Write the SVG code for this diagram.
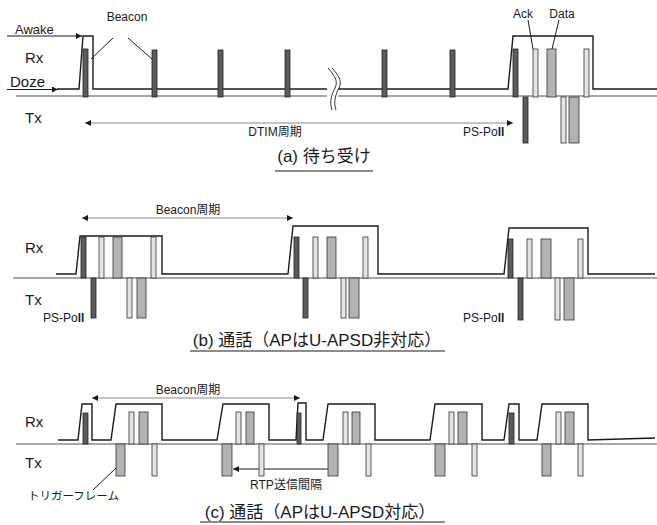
<svg xmlns="http://www.w3.org/2000/svg" width="657" height="525" viewBox="0 0 657 525">
<style>
text{font-family:"Liberation Sans","Noto Sans CJK JP",sans-serif;fill:#1a1a1a}
.lbl{font-size:15px}
.sm{font-size:12px}
.cap{font-size:17px;text-anchor:middle}
.base{stroke:#8a8a8a;stroke-width:1.3;fill:none}
.env{stroke:#1a1a1a;stroke-width:1.4;fill:none;stroke-linejoin:miter}
.dk{fill:#5c5c5c;stroke:#222;stroke-width:0.8}
.lt{fill:#e4e4e4;stroke:#333;stroke-width:0.8}
.md{fill:#b3b3b3;stroke:#333;stroke-width:0.8}
.arr{stroke:#8a8a8a;stroke-width:1.2;fill:none}
.blk{stroke:#1a1a1a;stroke-width:1;fill:none}
.ul{stroke:#1a1a1a;stroke-width:1.2}
</style>
<defs>
<marker id="ah" viewBox="0 0 10 10" refX="10" refY="5" markerWidth="8" markerHeight="6" markerUnits="userSpaceOnUse" orient="auto-start-reverse">
<path d="M0,0 L10,5 L0,10 z" fill="#1a1a1a"/>
</marker>
</defs>

<!-- Panel (a) -->
<g id="panel-a">
<text class="lbl" x="25" y="63">Rx</text>
<text class="lbl" x="25" y="123">Tx</text>
<text x="15" y="34" style="font-size:13px">Awake</text>
<text x="10" y="87" style="font-size:15px">Doze</text>
<text class="sm" x="127" y="21" text-anchor="middle">Beacon</text>
<text class="sm" x="523" y="18" text-anchor="middle">Ack</text>
<text class="sm" x="562" y="18" text-anchor="middle">Data</text>
<text class="sm" x="275" y="136" text-anchor="middle">DTIM周期</text>
<text class="sm" x="463" y="136">PS-Po<tspan font-weight="bold">ll</tspan></text>
<text class="cap" x="324" y="162">(a) 待ち受け</text>
<line class="ul" x1="275" y1="171" x2="373" y2="171"/>
</g>
<g id="connectors-a">
<line class="base" x1="16" y1="96" x2="327" y2="96"/>
<line class="base" x1="338" y1="96" x2="657" y2="96"/>
<path class="env" d="M57,89 L79,89 L83,36 L93,36 L93,89 L327,89 M338,89 L508,89 L513,36 L593,36 L593,89 L657,89"/>
<line class="blk" x1="7" y1="36" x2="82" y2="36" marker-end="url(#ah)"/>
<line class="blk" x1="7" y1="89.5" x2="58" y2="89.5" marker-end="url(#ah)"/>
<path class="blk" d="M113,38 L91,59 M128,38 L152,59"/>
<path class="blk" d="M528,20 L533,49 M559,20 L552,49"/>
<path d="M328,68 C336,77 338,82 335,88 S329,101 332,110" stroke="#333" stroke-width="1" fill="none"/>
<path d="M332,68 C340,77 342,82 339,88 S333,101 336,110" stroke="#333" stroke-width="1" fill="none"/>
<line class="arr" x1="85" y1="123" x2="513" y2="123" marker-start="url(#ah)" marker-end="url(#ah)"/>
</g>
<g id="bars-a">
<rect class="dk" x="83" y="49" width="5" height="48"/>
<rect class="dk" x="152" y="50" width="5" height="47"/>
<rect class="dk" x="218" y="50" width="5" height="47"/>
<rect class="dk" x="285" y="50" width="5" height="47"/>
<rect class="dk" x="382" y="50" width="5" height="47"/>
<rect class="dk" x="450" y="50" width="5" height="47"/>
<rect class="dk" x="513" y="49" width="5" height="48"/>
<rect class="lt" x="533" y="49" width="5" height="48"/>
<rect class="md" x="547" y="49" width="9" height="48"/>
<rect class="lt" x="584" y="49" width="5" height="48"/>
<rect class="dk" x="523" y="97" width="5" height="46"/>
<rect class="lt" x="561" y="97" width="5" height="46"/>
<rect class="md" x="569" y="97" width="10" height="46"/>
</g>

<!-- Panel (b) -->
<g id="panel-b">
<text class="lbl" x="25" y="253">Rx</text>
<text class="lbl" x="25" y="305">Tx</text>
<text class="sm" x="188" y="214" text-anchor="middle">Beacon周期</text>
<text class="sm" x="43" y="322">PS-Po<tspan font-weight="bold">ll</tspan></text>
<text class="sm" x="463" y="322">PS-Po<tspan font-weight="bold">ll</tspan></text>
<text class="cap" x="317" y="346">(b) 通話（APはU-APSD非対応）</text>
<line class="ul" x1="190" y1="351" x2="445" y2="351"/>
</g>
<g id="connectors-b">
<line class="base" x1="13" y1="278" x2="657" y2="278"/>
<path class="env" d="M56,274 L76,274 L80,236 L162,236 L162,274 L288,274 L293,226 L378,226 L378,274 L504,274 L509,228 L588,228 L588,274 L655,274"/>
<line class="arr" x1="82" y1="218" x2="293" y2="218" marker-start="url(#ah)" marker-end="url(#ah)"/>
</g>
<g id="bars-b">
<rect class="dk" x="81" y="237" width="5" height="41"/>
<rect class="lt" x="99" y="237" width="5" height="41"/>
<rect class="md" x="113" y="237" width="9" height="41"/>
<rect class="lt" x="151" y="237" width="5" height="41"/>
<rect class="dk" x="294" y="237" width="5" height="41"/>
<rect class="lt" x="313" y="237" width="5" height="41"/>
<rect class="md" x="327" y="237" width="9" height="41"/>
<rect class="lt" x="363" y="237" width="5" height="41"/>
<rect class="dk" x="508" y="239" width="5" height="39"/>
<rect class="lt" x="527" y="239" width="5" height="39"/>
<rect class="md" x="541" y="239" width="10" height="39"/>
<rect class="lt" x="578" y="239" width="5" height="39"/>
<rect class="dk" x="91" y="278" width="5" height="40"/>
<rect class="lt" x="127" y="278" width="5" height="40"/>
<rect class="md" x="137" y="278" width="9" height="40"/>
<rect class="dk" x="303" y="278" width="5" height="40"/>
<rect class="lt" x="341" y="278" width="5" height="40"/>
<rect class="md" x="349" y="278" width="10" height="40"/>
<rect class="dk" x="518" y="278" width="5" height="42"/>
<rect class="lt" x="555" y="278" width="5" height="42"/>
<rect class="md" x="564" y="278" width="10" height="42"/>
</g>

<!-- Panel (c) -->
<g id="panel-c">
<text class="lbl" x="25" y="427">Rx</text>
<text class="lbl" x="25" y="468">Tx</text>
<text class="sm" x="188" y="394" text-anchor="middle">Beacon周期</text>
<text class="sm" x="286" y="489" text-anchor="middle">RTP送信間隔</text>
<text x="28" y="500" style="font-size:11.5px">トリガーフレーム</text>
<text class="cap" x="320" y="518">(c) 通話（APはU-APSD対応）</text>
<line class="ul" x1="200" y1="522" x2="445" y2="522"/>
</g>
<g id="connectors-c">
<line class="base" x1="16" y1="444" x2="657" y2="444"/>
<path class="env" d="M58,440 L78,440 L82,404 L92,404 L92,440 L111,440 L116,404 L162,404 L162,440 L217,440 L223,404 L269,404 L269,440 L296,440 L298,403 L306,403 L306,440 L323,440 L328,404 L375,404 L375,440 L430,440 L435,404 L482,404 L482,440 L504,440 L509,404 L519,404 L519,440 L537,440 L542,404 L588,404 L588,440 L655,438"/>
<line class="arr" x1="92" y1="398" x2="300" y2="398" marker-start="url(#ah)" marker-end="url(#ah)"/>
<line class="blk" x1="233" y1="469" x2="337" y2="469" marker-start="url(#ah)" marker-end="url(#ah)"/>
<line class="blk" x1="93" y1="490" x2="117" y2="467"/>
</g>
<g id="bars-c">
<rect class="dk" x="83" y="413" width="5" height="31"/>
<rect class="lt" x="129" y="412" width="5" height="32"/>
<rect class="md" x="139" y="412" width="9" height="32"/>
<rect class="lt" x="236" y="412" width="5" height="32"/>
<rect class="md" x="246" y="412" width="8" height="32"/>
<rect class="dk" x="297" y="413" width="4" height="31"/>
<rect class="lt" x="343" y="412" width="5" height="32"/>
<rect class="md" x="352" y="412" width="8" height="32"/>
<rect class="lt" x="449" y="412" width="5" height="32"/>
<rect class="md" x="458" y="412" width="9" height="32"/>
<rect class="dk" x="509" y="413" width="5" height="31"/>
<rect class="lt" x="556" y="412" width="5" height="32"/>
<rect class="md" x="565" y="412" width="9" height="32"/>
<rect class="md" x="116" y="444" width="9" height="32"/>
<rect class="lt" x="152" y="444" width="5" height="32"/>
<rect class="md" x="222" y="444" width="10" height="32"/>
<rect class="lt" x="259" y="444" width="5" height="32"/>
<rect class="md" x="328" y="444" width="10" height="32"/>
<rect class="lt" x="366" y="444" width="5" height="32"/>
<rect class="md" x="435" y="444" width="10" height="32"/>
<rect class="lt" x="472" y="444" width="5" height="32"/>
<rect class="md" x="542" y="444" width="9" height="32"/>
<rect class="lt" x="578" y="444" width="5" height="32"/>
</g>
</svg>
